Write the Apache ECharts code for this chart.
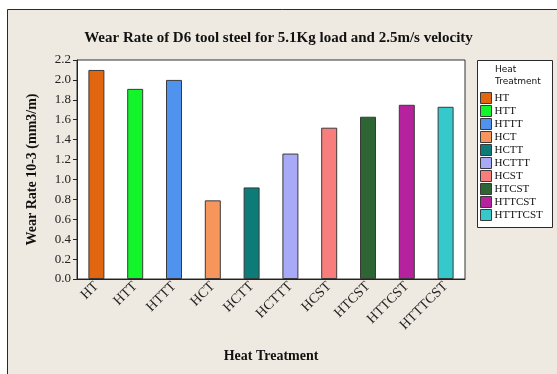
<!DOCTYPE html>
<html><head><meta charset="utf-8">
<script src="https://cdn.jsdelivr.net/npm/echarts@6/dist/echarts.min.js"></script>
<style>html,body{margin:0;padding:0;background:#fff;}#c{width:557px;height:374px;}</style>
</head><body><div id="c"></div>
<script>
var categories = ['HT','HTT','HTTT','HCT','HCTT','HCTTT','HCST','HTCST','HTTCST','HTTTCST'];
var wearRates = [2.10, 1.91, 2.00, 0.79, 0.92, 1.26, 1.52, 1.63, 1.75, 1.73];
var barColors = ['#E2650F','#12F52A','#4F93EF','#F7965C','#0D7B77','#A9AAF7','#F87E7E','#2E6535','#B6219E','#36C9CB'];
var yTicks = [0.0,0.2,0.4,0.6,0.8,1.0,1.2,1.4,1.6,1.8,2.0,2.2];

var serif = 'Liberation Serif';
var chart = echarts.init(document.getElementById('c'), null, {renderer:'canvas'});
var series = categories.map(function(c, i){
  var d = categories.map(function(){ return '-'; });
  d[i] = wearRates[i];
  return {
    name: c, type: 'bar', stack: 'all', data: d, barWidth: 16,
    itemStyle: {color: barColors[i], borderColor: '#3a3a3a', borderWidth: 1},
    emphasis: {disabled: true}
  };
});
chart.setOption({
  animation: false,
  backgroundColor: '#ffffff',
  graphic: [
    {type:'rect', z:-10, shape:{x:7.5,y:9.5,width:560,height:380}, style:{fill:'#EEEAE1', stroke:'#2a2a2a', lineWidth:1}},
    {type:'rect', z:-5, shape:{x:477.5,y:60.5,width:75,height:167}, style:{fill:'#ffffff', stroke:'#2a2a2a', lineWidth:1}},
    {type:'text', left: 495, top: 64, style:{text:'Heat\nTreatment', font:'9px "DejaVu Sans"', fill:'#111', lineHeight:12}}
  ],
  title: {
    text: 'Wear Rate of D6 tool steel for 5.1Kg load and 2.5m/s velocity',
    left: 'center', top: 26,
    textStyle: {fontFamily: serif, fontWeight: 'bold', fontSize: 15, color: '#111'}
  },
  legend: {
    orient: 'vertical', left: 480, top: 92, icon: 'rect', padding: 0,
    itemWidth: 11, itemHeight: 11, itemGap: 1,
    data: categories,
    textStyle: {fontFamily: serif, fontSize: 11, lineHeight: 11, color: '#111', padding:[0,0,0,-2]},
    itemStyle: {borderColor: '#3a3a3a', borderWidth: 1}
  },
  grid: {left: 77, right: 92, top: 60, bottom: 95, show: true, backgroundColor: '#ffffff', borderColor: '#333', borderWidth: 1},
  xAxis: {
    type: 'category', data: categories,
    name: 'Heat Treatment', nameLocation: 'middle', nameGap: 70,
    nameTextStyle: {fontFamily: serif, fontWeight: 'bold', fontSize: 14, color: '#111'},
    axisLine: {lineStyle: {color: '#222'}},
    axisTick: {alignWithLabel: true, length: 4, lineStyle: {color: '#222'}},
    axisLabel: {rotate: 45, fontFamily: serif, fontSize: 14, color: '#222', margin: 5, interval: 0}
  },
  yAxis: {
    type: 'value', min: 0, max: 2.2, interval: 0.2,
    name: 'Wear Rate 10-3 (mm3/m)', nameLocation: 'middle', nameGap: 38,
    nameTextStyle: {fontFamily: serif, fontWeight: 'bold', fontSize: 14, color: '#111'},
    axisLine: {show: true, lineStyle: {color: '#222'}},
    axisTick: {show: true, length: 4, lineStyle: {color: '#222'}},
    splitLine: {show: false},
    axisLabel: {fontFamily: serif, fontSize: 13, color: '#222', margin: 6,
      formatter: function(v){ return v.toFixed(1); }}
  },
  series: series
});
</script></body></html>
